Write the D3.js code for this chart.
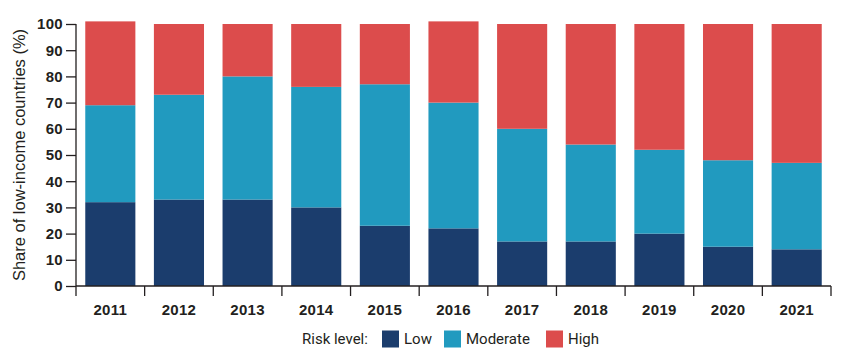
<!DOCTYPE html>
<html>
<head>
<meta charset="utf-8">
<script src="https://cdn.jsdelivr.net/npm/d3@7"></script>
<style>
  body { margin: 0; background: #fff; }
  text { font-family: Roboto, "Noto Sans", sans-serif; fill: #231f20; }
  .tick text { font-family: "Liberation Sans", Arial, sans-serif; font-weight: bold; font-size: 15px; letter-spacing: 0.3px; }
  .axis path, .axis line { stroke: #231f20; stroke-width: 1.3; }
</style>
</head>
<body>
<div id="chart"></div>
<script>
let years = ["2011","2012","2013","2014","2015","2016","2017","2018","2019","2020","2021"];
let low      = [32, 33, 33, 30, 23, 22, 17, 17, 20, 15, 14];
let moderate = [37, 40, 47, 46, 54, 48, 43, 37, 32, 33, 33];
let high     = [32, 27, 20, 24, 23, 31, 40, 46, 48, 52, 53];
let yTicks = [0, 10, 20, 30, 40, 50, 60, 70, 80, 90, 100];
let levels = ["Low", "Moderate", "High"];
let colors = ["#1b3d6d", "#219abf", "#dc4c4c"];

let width = 854, height = 360;
let margin = {top: 24, right: 23, bottom: 74, left: 76};

let svg = d3.select('#chart')
  .append('svg')
  .attr('width', width)
  .attr('height', height)

let rows = years.map(function (y, i) {
  return {year: y, Low: low[i], Moderate: moderate[i], High: high[i]};
});

let stack = d3.stack().keys(levels)(rows);

let x = d3.scaleBand()
  .domain(years)
  .range([margin.left, width - margin.right])
  .paddingInner(0.27)
  .paddingOuter(0.135);

let y = d3.scaleLinear()
  .domain([0, 100])
  .range([height - margin.bottom, margin.top]);

let color = d3.scaleOrdinal().domain(levels).range(colors);

//bars
svg.append("g")
  .selectAll("g")
  .data(stack)
  .enter()
  .append("g")
  .attr("fill", function (d) { return color(d.key); })
  .selectAll("rect")
  .data(function (d) { return d; })
  .enter()
  .append("rect")
  .attr("x", function (d) { return x(d.data.year); })
  .attr("width", x.bandwidth())
  .attr("y", function (d) { return y(d[1]); })
  .attr("height", function (d) { return y(d[0]) - y(d[1]); });

//y axis
svg.append("g")
  .attr("class", "axis")
  .attr("transform", "translate(" + margin.left + ",0)")
  .call(d3.axisLeft(y).tickValues(yTicks).tickSizeOuter(0).tickSize(10).tickPadding(3))
  .call(function (g) { g.select(".domain").attr("d", "M0," + y(100) + "V" + y(0)); });

//x axis: ticks at band edges
let xAxis = svg.append("g")
  .attr("class", "axis")
  .attr("transform", "translate(0," + y(0) + ")");

xAxis.append("line")
  .attr("x1", margin.left)
  .attr("x2", width - margin.right)
  .attr("stroke", "#231f20")
  .attr("stroke-width", 1.3);

let step = x.step();
let edges = years.map(function (d) { return x(d) - (step - x.bandwidth()) / 2; });
edges.push(width - margin.right);

xAxis.selectAll(".edge")
  .data(edges)
  .enter()
  .append("line")
  .attr("x1", function (d) { return d; })
  .attr("x2", function (d) { return d; })
  .attr("y1", 0)
  .attr("y2", 10)
  .attr("stroke", "#231f20")
  .attr("stroke-width", 1.3);

xAxis.selectAll(".lbl")
  .data(years)
  .enter()
  .append("text")
  .attr("class", "tick")
  .attr("x", function (d) { return x(d) + x.bandwidth() / 2; })
  .attr("y", 29)
  .attr("text-anchor", "middle")
  .style("font-family", "'Liberation Sans', Arial, sans-serif")
  .style("font-weight", "bold")
  .style("font-size", "15px")
  .style("letter-spacing", "0.3px")
  .text(function (d) { return d; });

//y title
svg.append("text")
  .attr("transform", "translate(25," + (y(50)) + ") rotate(-90)")
  .attr("text-anchor", "middle")
  .style("font-family", "'Liberation Sans', Arial, sans-serif")
  .style("font-size", "16.5px")
  .text("Share of low-income countries (%)");

//legend
let legend = svg.append("g")
  .attr("transform", "translate(302,339)");

legend.append("text")
  .attr("x", 0)
  .attr("dy", "0.35em")
  .style("font-size", "15px")
  .text("Risk level:");

let legendX = [80, 142, 244];
let item = legend.selectAll(".item")
  .data(levels)
  .enter()
  .append("g")
  .attr("transform", function (d, i) { return "translate(" + legendX[i] + ",0)"; });

item.append("rect")
  .attr("y", -8.5)
  .attr("width", 17)
  .attr("height", 17)
  .attr("fill", function (d) { return color(d); });

item.append("text")
  .attr("x", 22)
  .attr("dy", "0.35em")
  .style("font-size", "15px")
  .text(function (d) { return d; });
</script>
</body>
</html>
